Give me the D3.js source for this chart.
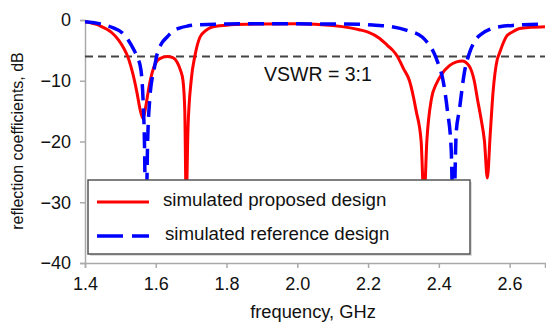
<!DOCTYPE html>
<html>
<head>
<meta charset="utf-8">
<script src="https://cdn.jsdelivr.net/npm/d3@7"></script>
<style>
  body { margin: 0; background: #fff; }
  text { font-family: "Liberation Sans", Arial, Helvetica, sans-serif; fill: #111; }
</style>
</head>
<body>
<div id="chart"></div>
<script>
// reflection coefficient curves
let freqProposed = [1.40, 1.44, 1.476, 1.495, 1.510, 1.522, 1.535, 1.547, 1.556, 1.564, 1.571, 1.578, 1.585, 1.595, 1.61, 1.632, 1.648, 1.66, 1.670, 1.677, 1.682, 1.686, 1.691, 1.700, 1.711, 1.725, 1.74, 1.753, 1.78, 1.81, 1.90, 2.00, 2.10, 2.15, 2.175, 2.20, 2.232, 2.255, 2.27, 2.283, 2.30, 2.317, 2.336, 2.350, 2.358, 2.366, 2.379, 2.393, 2.407, 2.43, 2.45, 2.466, 2.485, 2.50, 2.509, 2.52, 2.529, 2.537, 2.545, 2.553, 2.565, 2.571, 2.59, 2.61, 2.628, 2.66, 2.70];
let dbProposed = [-0.3, -0.9, -2.1, -3.3, -4.7, -6.2, -8.8, -12.0, -14.8, -16.2, -14.5, -12.0, -9.8, -7.7, -6.4, -6.0, -6.2, -6.9, -8.3, -10.0, -15, -30, -18, -10, -5.8, -2.8, -1.8, -1.3, -0.95, -0.8, -0.65, -0.6, -0.9, -1.3, -1.6, -2.0, -3.0, -4.2, -5.0, -6.0, -8.0, -10.0, -15.0, -20.0, -30, -20, -13, -10.5, -9.0, -7.5, -6.9, -6.75, -7.5, -10.0, -13, -16.5, -20, -26, -19, -12, -6.5, -5.5, -2.8, -1.9, -1.4, -1.2, -1.1];

let freqReference = [1.40, 1.454, 1.48, 1.505, 1.52, 1.538, 1.547, 1.558, 1.564, 1.568, 1.572, 1.577, 1.583, 1.59, 1.595, 1.603, 1.615, 1.632, 1.65, 1.669, 1.69, 1.716, 1.80, 1.90, 2.05, 2.175, 2.22, 2.268, 2.31, 2.353, 2.375, 2.387, 2.40, 2.41, 2.424, 2.435, 2.441, 2.449, 2.458, 2.472, 2.486, 2.50, 2.523, 2.545, 2.571, 2.62, 2.684, 2.70];
let dbReference = [-0.3, -0.8, -1.3, -2.1, -3.1, -4.9, -6.0, -8.2, -13, -20, -35, -20, -13, -9.5, -8.2, -5.8, -4.0, -2.8, -1.8, -1.3, -1.0, -0.8, -0.65, -0.6, -0.65, -0.7, -0.85, -1.1, -1.7, -2.8, -4.3, -5.5, -7.5, -9.4, -14.8, -21.4, -35, -18.6, -14.8, -8.7, -5.5, -3.6, -2.2, -1.5, -1.1, -0.85, -0.7, -0.7];

let xTicks = [1.4, 1.6, 1.8, 2.0, 2.2, 2.4, 2.6];
let yTicks = [0, -10, -20, -30, -40];
let vswrLevel = -6;
let legendNames = ["simulated proposed design", "simulated reference design"];

let width = 546, height = 325;

let svg = d3.select("#chart").append("svg")
    .attr("width", width)
    .attr("height", height);

let x = d3.scaleLinear().domain([1.4, 2.7]).range([85, 545]);
let y = d3.scaleLinear().domain([0, -40]).range([20, 263]);

svg.append("clipPath").attr("id", "plot")
    .append("rect")
    .attr("x", x(1.4)).attr("y", y(0) - 4)
    .attr("width", x(2.7) - x(1.4) + 2).attr("height", y(-40) - y(0) + 4);

// axes
let xAxis = svg.append("g")
    .attr("transform", "translate(0," + y(-40) + ")")
    .call(d3.axisBottom(x).tickValues(xTicks).tickFormat(d3.format(".1f")).tickSize(5).tickPadding(9));
let yAxis = svg.append("g")
    .attr("transform", "translate(" + x(1.4) + ",0)")
    .call(d3.axisLeft(y).tickValues(yTicks).tickSize(5).tickPadding(9));

[xAxis, yAxis].forEach(function(a) {
    a.select(".domain").attr("stroke", "#aaa").attr("stroke-width", 1.5);
    a.selectAll(".tick line").attr("stroke", "#aaa").attr("stroke-width", 1.5);
    a.selectAll(".tick text").style("font-size", "18px").attr("fill", "#111");
});

// axis titles
svg.append("text")
    .attr("x", 313).attr("y", 318)
    .style("text-anchor", "middle")
    .style("font-size", "18.3px")
    .text("frequency, GHz");

svg.append("text")
    .attr("transform", "translate(23,141) rotate(-90)")
    .style("text-anchor", "middle")
    .style("font-size", "16px")
    .text("reflection coefficients, dB");

// VSWR = 3:1 line
svg.append("line")
    .attr("x1", x(1.4)).attr("x2", x(2.7))
    .attr("y1", y(vswrLevel)).attr("y2", y(vswrLevel))
    .attr("stroke", "#444")
    .attr("stroke-width", 2)
    .attr("stroke-dasharray", "8,5");

svg.append("text")
    .attr("x", 264).attr("y", 81)
    .style("font-size", "19.5px")
    .text("VSWR = 3:1");

let line = d3.line()
    .x(function(d) { return x(d[0]); })
    .y(function(d) { return y(d[1]); })
    .curve(d3.curveMonotoneX);

let plot = svg.append("g").attr("clip-path", "url(#plot)");

plot.append("path")
    .datum(d3.zip(freqProposed, dbProposed))
    .attr("fill", "none")
    .attr("stroke", "#ff0000")
    .attr("stroke-width", 3)
    .attr("d", line);

plot.append("path")
    .datum(d3.zip(freqReference, dbReference))
    .attr("fill", "none")
    .attr("stroke", "#0000ff")
    .attr("stroke-width", 3.5)
    .attr("stroke-dasharray", "16,8")
    .attr("d", line);

// legend
let legend = svg.append("g");
legend.append("rect")
    .attr("x", 90).attr("y", 182)
    .attr("width", 382).attr("height", 74)
    .attr("fill", "#ddd");
legend.append("rect")
    .attr("x", 88).attr("y", 180)
    .attr("width", 382).attr("height", 74)
    .attr("fill", "#fff")
    .attr("stroke", "#555")
    .attr("stroke-width", 1.5);

let legendStyles = [
    {color: "#ff0000", dash: null, w: 3},
    {color: "#0000ff", dash: "26,9", w: 3.5}
];
legendNames.forEach(function(name, i) {
    let ly = 202 + i * 34;
    legend.append("line")
        .attr("x1", 97).attr("x2", 149)
        .attr("y1", ly).attr("y2", ly)
        .attr("stroke", legendStyles[i].color)
        .attr("stroke-width", legendStyles[i].w)
        .attr("stroke-dasharray", legendStyles[i].dash);
    legend.append("text")
        .attr("x", 163 + i * 2).attr("y", ly + 4)
        .style("font-size", "18.7px")
        .text(name);
});
</script>
</body>
</html>
